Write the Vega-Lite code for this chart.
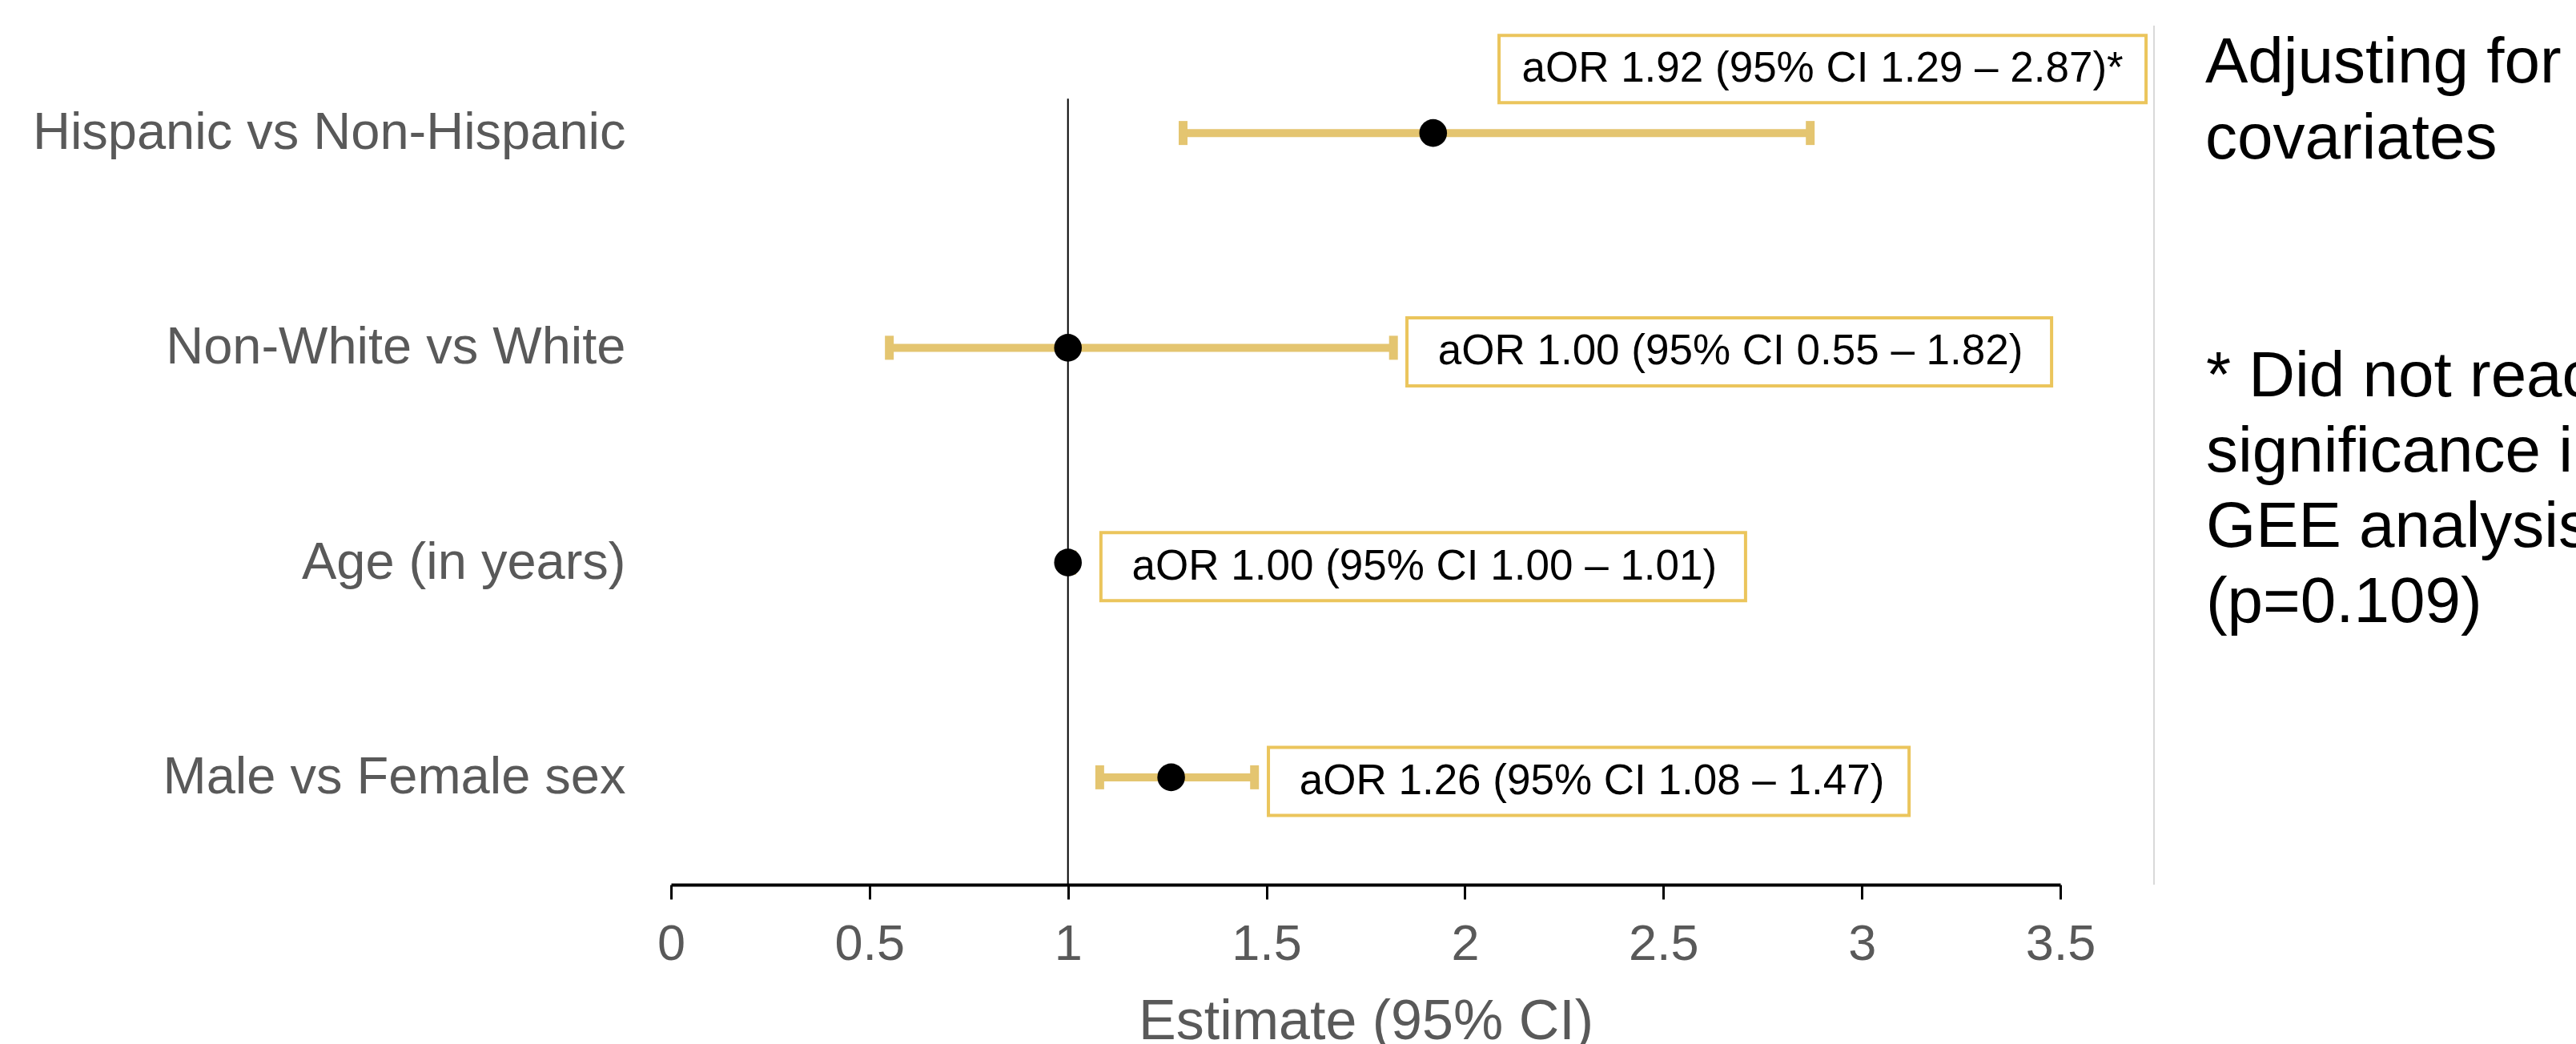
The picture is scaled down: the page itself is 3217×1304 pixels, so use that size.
{
  "$schema": "https://vega.github.io/schema/vega-lite/v6.json",
  "width": 1735,
  "height": 1073,
  "autosize": {"type": "none"},
  "padding": {"left": 838, "top": 32, "right": 644, "bottom": 199},
  "background": "white",
  "config": {"view": {"stroke": null}, "font": "Liberation Sans"},
  "data": {
    "values": [
      {"label": "Hispanic vs Non-Hispanic", "est": 1.92, "lo": 1.29, "hi": 2.87, "note": "aOR 1.92 (95% CI 1.29 – 2.87)*", "box_lo": 2.086, "box_hi": 3.716},
      {"label": "Non-White vs White", "est": 1.0, "lo": 0.55, "hi": 1.82, "note": "aOR 1.00 (95% CI 0.55 – 1.82)", "box_lo": 1.854, "box_hi": 3.478},
      {"label": "Age (in years)", "est": 1.0, "lo": 1.0, "hi": 1.01, "note": "aOR 1.00 (95% CI 1.00 – 1.01)", "box_lo": 1.083, "box_hi": 2.707},
      {"label": "Male vs Female sex", "est": 1.26, "lo": 1.08, "hi": 1.47, "note": "aOR 1.26 (95% CI 1.08 – 1.47)", "box_lo": 1.505, "box_hi": 3.119}
    ]
  },
  "encoding": {
    "y": {
      "field": "label",
      "type": "nominal",
      "sort": null,
      "scale": {"type": "band", "paddingInner": 0, "paddingOuter": 0},
      "axis": {
        "title": null,
        "domain": false,
        "ticks": false,
        "grid": false,
        "labelFontSize": 65,
        "labelColor": "#595959",
        "labelPadding": 57,
        "labelLimit": 0,
        "labelFont": "Liberation Sans"
      }
    }
  },
  "layer": [
    {
      "data": {"values": [{}]},
      "mark": {"type": "rule", "color": "#D9D9D9", "strokeWidth": 2},
      "encoding": {"x": {"datum": 3.736, "type": "quantitative"}, "y": null}
    },
    {
      "data": {"values": [{}]},
      "mark": {"type": "rule", "color": "black", "strokeWidth": 2},
      "encoding": {
        "x": {"datum": 1, "type": "quantitative"},
        "y": {"datum": "Hispanic vs Non-Hispanic", "type": "nominal", "bandPosition": 0.34},
        "y2": {"value": "height"}
      }
    },
    {
      "mark": {"type": "rule", "color": "#E4C570", "strokeWidth": 10},
      "encoding": {
        "x": {
          "field": "lo",
          "type": "quantitative",
          "scale": {"domain": [0, 3.5], "nice": false, "zero": false},
          "axis": {
            "title": "Estimate (95% CI)",
            "values": [0, 0.5, 1, 1.5, 2, 2.5, 3, 3.5],
            "format": "~g",
            "grid": false,
            "domainColor": "black",
            "domainWidth": 4,
            "tickColor": "black",
            "tickWidth": 3,
            "tickSize": 18,
            "labelFontSize": 63,
            "labelColor": "#595959",
            "labelPadding": 25,
            "labelFlush": false,
            "labelFont": "Liberation Sans",
            "titleFont": "Liberation Sans",
            "titleFontSize": 70,
            "titleFontWeight": "normal",
            "titleColor": "#595959",
            "titlePadding": 31
          }
        },
        "x2": {"field": "hi"}
      }
    },
    {
      "mark": {"type": "tick", "orient": "vertical", "size": 30, "thickness": 11, "color": "#E4C570", "opacity": 1},
      "encoding": {"x": {"field": "lo", "type": "quantitative"}}
    },
    {
      "mark": {"type": "tick", "orient": "vertical", "size": 30, "thickness": 11, "color": "#E4C570", "opacity": 1},
      "encoding": {"x": {"field": "hi", "type": "quantitative"}}
    },
    {
      "mark": {"type": "point", "shape": "circle", "filled": true, "size": 1195, "color": "black", "opacity": 1, "strokeWidth": 0},
      "encoding": {"x": {"field": "est", "type": "quantitative"}}
    },
    {
      "transform": [{"filter": "datum.label === 'Hispanic vs Non-Hispanic'"}],
      "layer": [
        {
          "mark": {"type": "rect", "height": 84, "yOffset": -80, "fill": "white", "stroke": "#EBC55C", "strokeWidth": 4},
          "encoding": {"x": {"field": "box_lo", "type": "quantitative"}, "x2": {"field": "box_hi"}}
        },
        {
          "mark": {"type": "text", "align": "center", "baseline": "middle", "dx": 404, "yOffset": -80, "fontSize": 53, "color": "black", "font": "Liberation Sans"},
          "encoding": {"x": {"field": "box_lo", "type": "quantitative"}, "text": {"field": "note"}}
        }
      ]
    },
    {
      "transform": [{"filter": "datum.label !== 'Hispanic vs Non-Hispanic'"}],
      "layer": [
        {
          "mark": {"type": "rect", "height": 85, "yOffset": 5, "fill": "white", "stroke": "#EBC55C", "strokeWidth": 4},
          "encoding": {"x": {"field": "box_lo", "type": "quantitative"}, "x2": {"field": "box_hi"}}
        },
        {
          "mark": {"type": "text", "align": "center", "baseline": "middle", "dx": 404, "yOffset": 5, "fontSize": 53, "color": "black", "font": "Liberation Sans"},
          "encoding": {"x": {"field": "box_lo", "type": "quantitative"}, "text": {"field": "note"}}
        }
      ]
    },
    {
      "data": {"values": [{"side": ["Adjusting for", "covariates"]}]},
      "mark": {"type": "text", "align": "left", "baseline": "alphabetic", "fontSize": 80, "lineHeight": 95, "dy": -63, "color": "black", "font": "Liberation Sans"},
      "encoding": {
        "x": {"datum": 3.865, "type": "quantitative"},
        "y": {"datum": "Hispanic vs Non-Hispanic", "type": "nominal"},
        "text": {"field": "side"}
      }
    },
    {
      "data": {"values": [{"side": ["* Did not reach", "significance in", "GEE analysis", "(p=0.109)"]}]},
      "mark": {"type": "text", "align": "left", "baseline": "alphabetic", "fontSize": 80, "lineHeight": 94, "dy": 61, "color": "black", "font": "Liberation Sans"},
      "encoding": {
        "x": {"datum": 3.867, "type": "quantitative"},
        "y": {"datum": "Non-White vs White", "type": "nominal"},
        "text": {"field": "side"}
      }
    }
  ]
}
